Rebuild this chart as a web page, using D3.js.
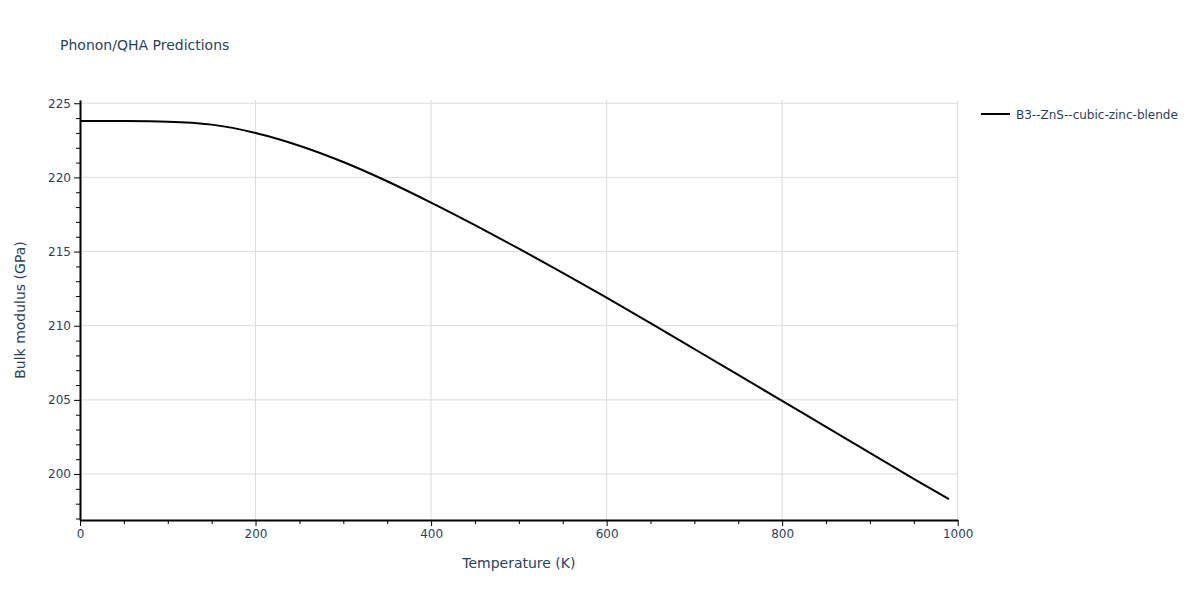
<!DOCTYPE html>
<html>
<head>
<meta charset="utf-8">
<script src="https://cdn.jsdelivr.net/npm/d3@7"></script>
<style>
  body { margin: 0; background: #fff; }
  text { font-family: "DejaVu Sans", verdana, arial, sans-serif; fill: #2a3f5f; }
</style>
</head>
<body>
<div id="chart-area"></div>
<script>
// data
var temps = [0, 50, 100, 150, 200, 250, 300, 350, 400, 450, 500, 550, 600, 650, 700, 750, 800, 850, 900, 950, 990];
var bulk = [223.81, 223.80, 223.76, 223.56, 223.00, 222.14, 221.04, 219.74, 218.30, 216.78, 215.20, 213.57, 211.89, 210.17, 208.43, 206.68, 204.93, 203.18, 201.43, 199.68, 198.30];
var seriesName = "B3--ZnS--cubic-zinc-blende";
var xTicks = [0, 200, 400, 600, 800, 1000];
var yTicks = [200, 205, 210, 215, 220, 225];

var data = temps.map(function(t, i) { return { t: t, k: bulk[i] }; });

var margin = { left: 80, top: 100 };
var width = 877.7, height = 420;

var svg = d3.select("#chart-area")
    .append("svg")
        .attr("width", 1200)
        .attr("height", 600);

var g = svg.append("g")
    .attr("transform", "translate(" + margin.left + "," + margin.top + ")");

// scales
var xScale = d3.scaleLinear().domain([0, 1000]).range([0, width]);
var yScale = d3.scaleLinear().domain([196.9, 225.22]).range([height, 0]);

// grid
g.selectAll(".xgrid").data(xTicks.slice(1)).enter().append("line")
    .attr("x1", function(d) { return xScale(d); })
    .attr("x2", function(d) { return xScale(d); })
    .attr("y1", 0).attr("y2", height)
    .attr("stroke", "#dcdcdc").attr("stroke-width", 1);
g.selectAll(".ygrid").data(yTicks).enter().append("line")
    .attr("x1", 0).attr("x2", width)
    .attr("y1", function(d) { return yScale(d); })
    .attr("y2", function(d) { return yScale(d); })
    .attr("stroke", "#dcdcdc").attr("stroke-width", 1);

// minor ticks
var xMinor = d3.range(50, 1000, 50).filter(function(d) { return d % 200 !== 0; });
var yMinor = d3.range(197, 226, 1).filter(function(d) { return d % 5 !== 0; });

var xAxisCall = d3.axisBottom(xScale).tickValues(xTicks).tickFormat(d3.format("d"))
    .tickSize(6).tickPadding(3).tickSizeOuter(0);
g.append("g")
    .attr("class", "x axis")
    .attr("transform", "translate(0," + height + ")")
    .call(xAxisCall);
g.append("g")
    .attr("transform", "translate(0," + height + ")")
    .call(d3.axisBottom(xScale).tickValues(xMinor).tickSize(4).tickFormat("").tickSizeOuter(0))
    .select(".domain").remove();

var yAxisCall = d3.axisLeft(yScale).tickValues(yTicks).tickSize(6).tickPadding(3).tickSizeOuter(0);
g.append("g")
    .attr("class", "y axis")
    .call(yAxisCall);
g.append("g")
    .call(d3.axisLeft(yScale).tickValues(yMinor).tickSize(4).tickFormat("").tickSizeOuter(0))
    .select(".domain").remove();

svg.selectAll(".axis .domain").attr("stroke", "#000").attr("stroke-width", 2);
svg.selectAll(".tick line").attr("stroke", "#000");
svg.selectAll(".tick text").style("font-size", "12px").attr("fill", "#2a3f5f");

// line
var line = d3.line()
    .curve(d3.curveMonotoneX)
    .x(function(d) { return xScale(d.t); })
    .y(function(d) { return yScale(d.k); });

g.append("path")
    .datum(data)
    .attr("d", line)
    .attr("fill", "none")
    .attr("stroke", "#000")
    .attr("stroke-width", 2);

// titles
svg.append("text")
    .attr("x", 60).attr("y", 50)
    .style("font-size", "14px")
    .text("Phonon/QHA Predictions");

svg.append("text")
    .attr("x", margin.left + width / 2).attr("y", 568)
    .attr("text-anchor", "middle")
    .style("font-size", "14px")
    .text("Temperature (K)");

svg.append("text")
    .attr("transform", "translate(25," + (margin.top + height / 2) + ") rotate(-90)")
    .attr("text-anchor", "middle")
    .style("font-size", "14px")
    .text("Bulk modulus (GPa)");

// legend
svg.append("line")
    .attr("x1", 981).attr("x2", 1010)
    .attr("y1", 114).attr("y2", 114)
    .attr("stroke", "#000").attr("stroke-width", 2);
svg.append("text")
    .attr("x", 1016).attr("y", 118.5)
    .style("font-size", "12px")
    .text(seriesName);
</script>
</body>
</html>
